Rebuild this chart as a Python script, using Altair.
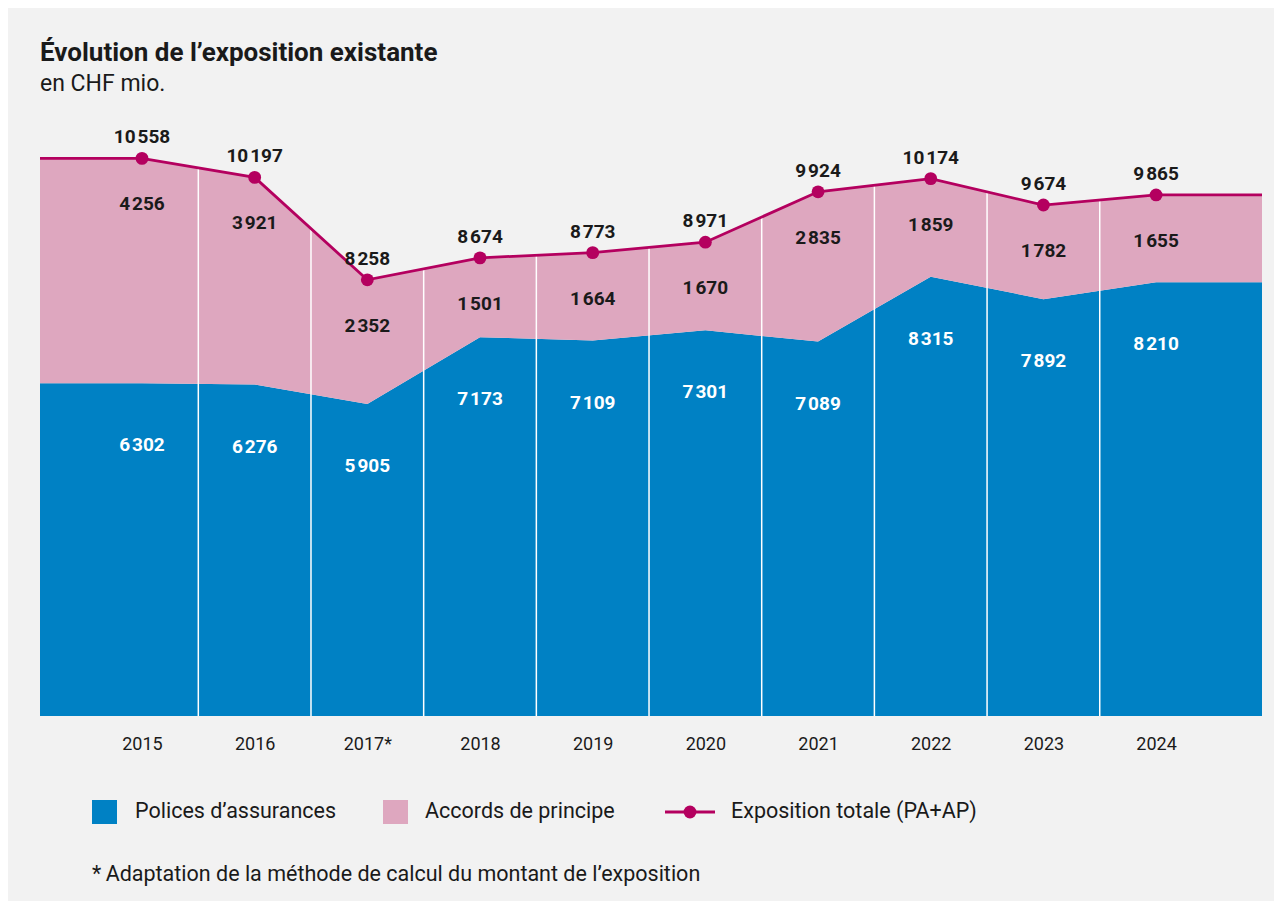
import altair as alt
import pandas as pd

# ---- data ----
years = ["2015", "2016", "2017*", "2018", "2019", "2020", "2021", "2022", "2023", "2024"]
polices = [6302, 6276, 5905, 7173, 7109, 7301, 7089, 8315, 7892, 8210]
accords = [4256, 3921, 2352, 1501, 1664, 1670, 2835, 1859, 1782, 1655]
totals = [10558, 10197, 8258, 8674, 8773, 8971, 9924, 10174, 9674, 9865]

legend_labels = ["Polices d’assurances", "Accords de principe", "Exposition totale (PA+AP)"]
title_text = "Évolution de l’exposition existante"
subtitle_text = "en CHF mio."
footnote = "*\u2009Adaptation de la méthode de calcul du montant de l’exposition"

# ---- styling ----
BLUE = "#0081c4"
PINK = "#dea7bf"
MAGENTA = "#b4005f"
TEXT = "#1a1a1a"
BG = "#f2f2f2"
FONT = "Roboto"
X_MIN, X_MAX = -0.905, 9.94
Y_MAX = 11000


def fmt(v):
    return f"{v:,}".replace(",", "\u200a")


idx = list(range(len(years)))
pts = pd.DataFrame({
    "x": idx, "year": years, "polices": polices, "accords": accords, "total": totals,
})
pts["lab_total"] = [fmt(v) for v in totals]
pts["lab_accords"] = [fmt(v) for v in accords]
pts["lab_polices"] = [fmt(v) for v in polices]

band = pd.concat([pts.iloc[[0]].assign(x=X_MIN), pts, pts.iloc[[-1]].assign(x=X_MAX)],
                 ignore_index=True)

sep = pd.DataFrame({
    "x": [i + 0.5 for i in idx[:-1]],
    "top": [(totals[i] + totals[i + 1]) / 2 for i in idx[:-1]],
    "base": [0] * (len(idx) - 1),
})

label_expr = "[" + ",".join(f"'{y}'" for y in years) + "][datum.value]"
xscale = alt.Scale(domain=[X_MIN, X_MAX], nice=False, zero=False)
xaxis = alt.Axis(values=idx, labelExpr=label_expr, title=None, domain=False, ticks=False,
                 grid=False, labelFontSize=18, labelPadding=19, labelColor=TEXT, labelFont=FONT)
yscale = alt.Scale(domain=[0, Y_MAX], nice=False, zero=True)


def X():
    return alt.X("x:Q", scale=xscale, axis=xaxis)


def Y(field):
    return alt.Y(f"{field}:Q", scale=yscale, axis=None)


blue_area = alt.Chart(band).mark_area(color=BLUE, opacity=1).encode(x=X(), y=Y("polices"))
pink_area = alt.Chart(band).mark_area(color=PINK, opacity=1).encode(
    x=X(), y=Y("total"), y2="polices:Q")
seps = alt.Chart(sep).mark_rule(color="white", strokeWidth=1.5).encode(
    x=X(), y=Y("top"), y2="base:Q")
line = alt.Chart(band).mark_line(color=MAGENTA, strokeWidth=2.8).encode(x=X(), y=Y("total"))
points = alt.Chart(pts).mark_point(filled=True, size=165, color=MAGENTA, opacity=1).encode(
    x=X(), y=Y("total"))

lab_tot = alt.Chart(pts).mark_text(font=FONT, fontSize=19, fontWeight="bold", color=TEXT,
                                   baseline="middle", dy=-21).encode(
    x=X(), y=Y("total"), text="lab_total:N")
lab_acc = alt.Chart(pts).mark_text(font=FONT, fontSize=19, fontWeight="bold", color=TEXT,
                                   baseline="middle", dy=46).encode(
    x=X(), y=Y("total"), text="lab_accords:N")
lab_pol = alt.Chart(pts).mark_text(font=FONT, fontSize=19, fontWeight="bold", color="white",
                                   baseline="middle", dy=62).encode(
    x=X(), y=Y("polices"), text="lab_polices:N")

one = pd.DataFrame({"k": [0]})
LEG_Y = 677
leg_blue = alt.Chart(one).mark_rect(color=BLUE).encode(
    x=alt.value(52), x2=alt.value(77), y=alt.value(LEG_Y - 12), y2=alt.value(LEG_Y + 12))
leg_pink = alt.Chart(one).mark_rect(color=PINK).encode(
    x=alt.value(343), x2=alt.value(368), y=alt.value(LEG_Y - 12), y2=alt.value(LEG_Y + 12))
leg_line = alt.Chart(one).mark_rule(color=MAGENTA, strokeWidth=2.8).encode(
    x=alt.value(625), x2=alt.value(675), y=alt.value(LEG_Y))
leg_dot = alt.Chart(one).mark_point(filled=True, size=165, color=MAGENTA, opacity=1).encode(
    x=alt.value(650), y=alt.value(LEG_Y))


def leg_text(txt, xpos, ypos=LEG_Y, size=21.5):
    return alt.Chart(one).mark_text(font=FONT, fontSize=size, color=TEXT, align="left",
                                    baseline="middle").encode(
        x=alt.value(xpos), y=alt.value(ypos), text=alt.value(txt))


leg_t1 = leg_text(legend_labels[0], 95)
leg_t2 = leg_text(legend_labels[1], 385)
leg_t3 = leg_text(legend_labels[2], 691)
foot = leg_text(footnote, 52, 740, 21.5)

chart = alt.layer(
    blue_area, pink_area, seps, line, points, lab_tot, lab_acc, lab_pol,
    leg_blue, leg_pink, leg_line, leg_dot, leg_t1, leg_t2, leg_t3, foot,
).properties(
    width=1222, height=581,
    padding={"left": 32, "top": 127, "right": 12, "bottom": 185},
    autosize=alt.AutoSizeParams(type="none"),
    title=alt.Title(title_text, subtitle=subtitle_text, anchor="start", frame="group",
                    font=FONT, fontSize=26, fontWeight="bold", color=TEXT,
                    subtitleFont=FONT, subtitleFontSize=23, subtitleColor=TEXT,
                    subtitlePadding=7, offset=32),
).configure(background=BG).configure_view(stroke=None)

chart.save("out.html", embed_options={"renderer": "svg", "actions": False})
